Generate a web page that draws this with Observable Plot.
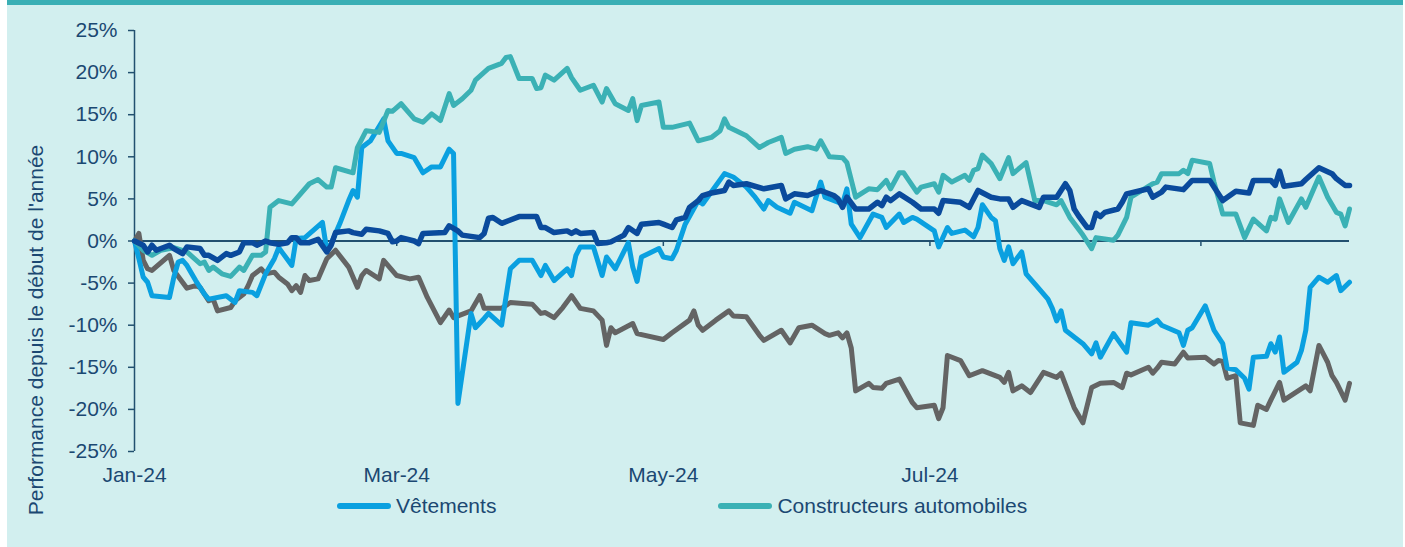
<!DOCTYPE html>
<html><head><meta charset="utf-8">
<script src="https://cdn.jsdelivr.net/npm/d3@7"></script>
<script src="https://cdn.jsdelivr.net/npm/@observablehq/plot@0.6"></script>
<style>
html,body{margin:0;padding:0;background:#fff;width:1405px;height:547px;overflow:hidden;}
#panel{position:absolute;left:7px;top:0;width:1396px;height:542px;border-top:5px solid #3aafb5;background:#d2efef;}
#chart{position:absolute;left:0;top:0;}
#ytitle{position:absolute;left:36px;top:330px;transform:translate(-50%,-50%) rotate(-90deg);white-space:nowrap;font-family:"Liberation Sans",Arial,sans-serif;font-size:21px;color:#1b4872;}
#legend{position:absolute;left:337px;top:494px;display:flex;align-items:center;font-family:"Liberation Sans",Arial,sans-serif;font-size:21px;color:#1b4872;}
#legend .item{display:flex;align-items:center;}
#legend .sw{display:inline-block;width:54px;height:6px;border-radius:3px;margin-right:5px;}
</style></head><body>
<div id="panel"></div>
<div id="chart"></div>
<div id="ytitle">Performance depuis le début de l'année</div>
<div id="legend"></div>
<script>
// Jour = nombre de jours depuis le 1er janvier 2024 ; valeur = performance en %
const vetements = [[0,0],[1,-2.1],[2,-4.3],[3,-4.9],[4,-6.5],[8,-6.7],[9,-4.3],[10,-2.5],[11,-2.3],[12,-2.9],[14,-4.7],[16,-6.3],[17,-6.9],[21,-6.5],[23,-7.3],[24,-5.9],[27,-6.1],[28,-6.5],[30,-3.9],[32,-2.1],[33,-0.8],[34,-1.5],[36,-2.9],[37,0.3],[39,0.4],[43,2.2],[44,-1.1],[45,-0.3],[47,2.1],[49,4.8],[50,6.0],[51,5.2],[52,11.1],[54,11.9],[57,14.5],[58,11.9],[60,10.4],[61,10.4],[64,9.9],[66,8.1],[68,8.8],[70,8.8],[72,10.9],[73,10.4],[74,-19.3],[77,-8.6],[78,-10.3],[80,-9.2],[81,-8.6],[84,-10.0],[86,-3.3],[88,-2.3],[91,-2.3],[93,-4.1],[94,-2.9],[96,-4.7],[99,-3.3],[100,-4.1],[101,-1.7],[102,-0.7],[105,-0.7],[107,-4.1],[108,-1.9],[110,-3.3],[113,-0.2],[114,-3.1],[115,-4.8],[116,-1.9],[120,-0.9],[121,-1.9],[123,-2.1],[124,-1.1],[126,2.0],[129,4.8],[130,4.4],[135,8.0],[137,7.6],[140,6.4],[142,5.2],[144,3.8],[145,4.8],[147,4.0],[150,3.3],[151,4.6],[155,3.6],[157,7.0],[158,5.2],[162,4.4],[163,6.2],[164,2.0],[166,0.4],[169,3.2],[171,2.8],[172,1.6],[175,3.2],[176,2.2],[178,2.8],[179,2.6],[183,1.2],[184,-0.7],[186,1.6],[187,0.9],[190,1.3],[192,0.5],[193,1.6],[194,4.3],[196,2.8],[197,2.4],[198,-0.9],[199,-2.3],[200,-0.7],[201,-2.7],[203,-1.3],[204,-3.9],[206,-5.1],[209,-6.9],[210,-8.0],[211,-9.5],[212,-8.3],[213,-10.6],[217,-12.2],[219,-13.4],[220,-12.1],[221,-13.8],[224,-11.0],[227,-13.2],[228,-9.7],[232,-10.0],[234,-9.4],[235,-10.0],[239,-10.9],[240,-12.4],[241,-10.6],[242,-10.3],[245,-7.7],[247,-10.6],[249,-12.2],[250,-15.1],[252,-15.3],[254,-16.3],[255,-17.6],[256,-13.8],[259,-13.7],[260,-12.2],[261,-13.2],[262,-11.4],[263,-15.6],[266,-14.4],[267,-13.0],[268,-10.6],[269,-5.5],[271,-4.3],[273,-4.9],[275,-4.1],[276,-5.9],[278,-4.9]];

const constructeurs = [[0,0],[2,-1.1],[4,-1.7],[6,-1.1],[9,-0.8],[12,-1.3],[15,-2.7],[16,-2.5],[17,-3.5],[18,-3.1],[20,-3.9],[22,-4.2],[24,-3.1],[25,-3.5],[27,-1.7],[29,-1.7],[30,-1.3],[31,4.0],[33,4.8],[36,4.4],[40,6.8],[42,7.3],[44,6.4],[45,6.4],[46,8.7],[50,8.1],[51,11.1],[53,13.1],[56,12.9],[58,15.5],[59,15.4],[61,16.3],[64,14.5],[66,14.1],[68,15.1],[70,14.3],[72,17.5],[73,16.1],[75,16.9],[77,17.9],[78,19.1],[81,20.5],[84,21.1],[85,21.8],[86,21.9],[88,19.3],[91,19.3],[92,18.1],[93,18.2],[94,19.7],[96,19.1],[99,20.5],[100,19.4],[102,17.9],[105,18.5],[107,16.5],[108,18.1],[110,16.3],[113,15.5],[114,16.9],[115,14.3],[116,16.1],[120,16.5],[121,13.5],[123,13.5],[127,14.0],[129,11.9],[132,12.3],[134,13.1],[135,14.5],[136,13.5],[140,12.5],[143,11.1],[145,11.7],[148,12.3],[149,10.4],[151,10.9],[154,11.2],[156,10.9],[157,11.9],[159,10.0],[162,9.9],[163,9.3],[165,5.2],[168,6.2],[170,6.1],[172,7.2],[173,6.2],[175,8.1],[176,8.1],[179,5.8],[180,6.4],[183,6.8],[184,5.8],[185,7.8],[187,7.0],[190,7.8],[191,7.2],[192,8.4],[193,8.6],[194,10.2],[196,9.2],[198,7.4],[200,9.9],[201,8.0],[204,9.3],[206,4.8],[208,4.8],[211,4.3],[212,4.8],[214,2.8],[217,0.7],[219,-0.9],[220,0.4],[224,0.1],[225,0.7],[227,2.8],[228,5.2],[233,6.8],[234,7.0],[235,8.0],[239,8.0],[240,8.4],[241,8.0],[242,9.6],[246,9.2],[247,7.0],[249,3.2],[252,3.2],[254,0.4],[256,2.6],[259,1.2],[260,2.8],[261,2.6],[262,5.0],[264,2.2],[267,5.0],[268,4.0],[271,7.6],[273,5.2],[275,3.4],[276,3.2],[277,1.8],[278,3.8]];

const indice = [[0,0],[2,-0.5],[3,-1.3],[4,-0.5],[5,-1.1],[8,-0.5],[9,-0.9],[11,-1.5],[12,-0.7],[15,-0.9],[16,-1.7],[17,-1.7],[19,-2.3],[21,-1.5],[22,-1.7],[24,-1.3],[25,-0.2],[27,-0.2],[28,-0.5],[30,0],[31,-0.2],[33,-0.4],[35,-0.2],[36,0.4],[37,0.4],[38,-0.2],[40,-0.2],[42,0.2],[44,-1.3],[45,-0.5],[46,1.0],[49,1.2],[50,1.0],[52,0.8],[53,1.4],[56,1.2],[58,0.9],[59,-0.1],[60,0],[61,0.4],[64,0],[65,-0.3],[66,0.9],[71,1.0],[72,1.8],[74,1.2],[75,0.7],[79,0.4],[80,0.9],[81,2.7],[82,2.8],[84,2.1],[88,2.9],[92,2.9],[93,1.6],[94,1.6],[96,1.0],[99,1.2],[100,0.9],[101,1.2],[102,0.9],[105,1.0],[106,-0.3],[108,-0.2],[109,-0.1],[112,0.7],[113,1.6],[115,0.9],[116,2.0],[120,2.2],[121,2.0],[123,1.6],[124,2.5],[126,2.8],[127,4.0],[129,4.8],[130,5.4],[132,5.7],[135,6.0],[136,7.0],[137,6.6],[140,6.8],[144,6.2],[148,6.6],[149,5.0],[151,5.6],[154,5.4],[157,6.0],[160,5.4],[161,5.0],[162,4.0],[163,5.2],[165,3.8],[168,3.8],[170,4.6],[171,4.2],[172,5.2],[173,4.8],[175,5.6],[178,4.6],[180,3.8],[183,3.8],[184,3.3],[185,4.8],[189,4.6],[191,4.0],[193,6.0],[196,5.2],[198,5.0],[200,5.0],[201,4.0],[203,4.8],[207,4.0],[208,5.2],[211,5.2],[213,6.8],[214,6.0],[215,3.8],[216,3.0],[218,1.6],[219,1.6],[220,3.3],[221,2.9],[222,3.4],[225,3.8],[226,4.6],[227,5.6],[232,6.2],[233,5.2],[235,5.8],[236,6.4],[240,6.1],[242,7.2],[246,7.2],[249,4.8],[252,5.9],[255,5.7],[256,7.2],[260,7.2],[261,6.6],[262,8.3],[263,6.5],[267,6.8],[268,7.3],[271,8.7],[274,8.0],[275,7.4],[277,6.6],[278,6.6]];

const autreSecteur = [[0,0],[1,0.9],[2,-2.3],[3,-3.3],[4,-3.5],[8,-1.7],[9,-3.5],[12,-5.6],[14,-5.3],[15,-5.5],[17,-7.1],[18,-6.9],[19,-8.3],[22,-7.9],[23,-7.1],[25,-6.3],[26,-5.3],[27,-4.1],[29,-3.3],[30,-3.9],[32,-3.7],[33,-4.3],[35,-5.1],[36,-5.9],[37,-5.3],[38,-6.1],[39,-4.1],[40,-4.7],[42,-4.5],[44,-2.1],[46,-1.1],[49,-3.1],[51,-5.5],[52,-4.1],[53,-3.5],[56,-4.5],[57,-2.3],[60,-4.1],[63,-4.5],[65,-4.3],[67,-6.7],[70,-9.7],[72,-8.2],[73,-9.1],[77,-8.3],[79,-6.5],[80,-8.0],[84,-8.0],[86,-7.3],[91,-7.5],[93,-8.6],[94,-8.5],[96,-9.1],[98,-7.9],[100,-6.5],[102,-8.0],[105,-8.3],[107,-9.4],[108,-12.4],[109,-10.3],[110,-10.9],[114,-9.8],[115,-11.0],[121,-11.7],[123,-10.9],[127,-9.4],[128,-8.3],[129,-10.0],[130,-10.6],[133,-9.4],[136,-8.3],[137,-8.9],[140,-9.0],[143,-11.2],[144,-11.8],[148,-10.6],[150,-12.1],[152,-10.3],[155,-10.0],[158,-11.0],[159,-11.2],[161,-10.9],[162,-11.5],[163,-10.9],[164,-12.7],[165,-17.8],[168,-16.9],[169,-17.4],[171,-17.5],[172,-16.9],[175,-16.4],[178,-19.2],[179,-19.8],[183,-19.5],[184,-21.1],[185,-19.8],[186,-13.6],[189,-14.2],[191,-16.0],[194,-15.4],[198,-16.2],[199,-16.8],[200,-15.6],[201,-17.8],[203,-17.2],[205,-18.0],[208,-15.6],[211,-16.2],[212,-15.7],[215,-19.8],[217,-21.6],[219,-17.4],[221,-16.9],[224,-16.8],[226,-17.4],[227,-15.7],[228,-15.9],[232,-15.0],[233,-15.7],[234,-15.1],[235,-14.4],[238,-14.6],[240,-13.2],[241,-13.9],[245,-13.8],[247,-14.6],[248,-14.2],[249,-14.3],[250,-16.3],[252,-16.0],[253,-21.6],[256,-21.9],[257,-19.5],[259,-20.0],[260,-18.9],[262,-16.8],[263,-18.9],[268,-17.2],[269,-17.8],[271,-12.4],[273,-14.4],[274,-16.0],[275,-16.8],[277,-18.9],[278,-16.9]];

const yTicks = [-25, -20, -15, -10, -5, 0, 5, 10, 15, 20, 25];
const tickDays = [0, 60, 121, 182, 244];     // 1er jan, 1er mars, 1er mai, 1er juil, 1er sept
const labelDays = [0, 60, 121, 182];          // étiquettes affichées
const lastDay = 278;
const legendNames = ["Vêtements", "Constructeurs automobiles"];

const colors = {vet: "#0aa0e0", auto: "#3bb1b5", indice: "#0a4a9c", autre: "#646464"};
const axisColor = "#22506f";
const textColor = "#1b4872";

const toDate = d => new Date(Date.UTC(2024, 0, 1 + d));
const rows = arr => arr.map(([d, v]) => ({date: toDate(d), value: v}));

const lineOpts = (color, w) => ({x: "date", y: "value", stroke: color, strokeWidth: w, strokeLinejoin: "round", strokeLinecap: "round"});

const plot = Plot.plot({
  width: 1405,
  height: 490,
  marginLeft: 134,
  marginRight: 56,
  marginTop: 30,
  marginBottom: 39,
  style: {background: "transparent", fontFamily: "'Liberation Sans', Arial, sans-serif", fontSize: "21px", color: textColor, overflow: "visible"},
  x: {type: "utc", domain: [toDate(0), toDate(lastDay)]},
  y: {domain: [-25, 25]},
  marks: [
    Plot.axisY({ticks: yTicks, tickFormat: d => d + "%", tickSize: 6, tickPadding: 11, stroke: axisColor, strokeWidth: 1.5, fill: textColor, label: null}),
    Plot.axisX({ticks: labelDays.map(toDate), tickFormat: d3.utcFormat("%b-%y"), tickSize: 0, tickPadding: 16, fill: textColor, label: null}),
    Plot.ruleX([toDate(0)], {y1: -25, y2: 25, stroke: axisColor, strokeWidth: 1.5}),
    Plot.ruleY([0], {stroke: axisColor, strokeWidth: 1.8}),
    Plot.ruleX(tickDays.map(toDate), {x: d => d, y1: 0, y2: -0.65, stroke: axisColor, strokeWidth: 1.5}),
    Plot.line(rows(autreSecteur), lineOpts(colors.autre, 5)),
    Plot.line(rows(vetements), lineOpts(colors.vet, 5)),
    Plot.line(rows(constructeurs), lineOpts(colors.auto, 5)),
    Plot.line(rows(indice), lineOpts(colors.indice, 5.5))
  ]
});
document.getElementById("chart").appendChild(plot);

const legend = document.getElementById("legend");
const legendColors = [colors.vet, colors.auto];
legendNames.forEach((name, i) => {
  const item = document.createElement("span");
  item.className = "item";
  if (i > 0) item.style.marginLeft = "222px";
  const sw = document.createElement("span");
  sw.className = "sw";
  sw.style.background = legendColors[i];
  item.appendChild(sw);
  item.appendChild(document.createTextNode(name));
  legend.appendChild(item);
});
</script></body></html>
